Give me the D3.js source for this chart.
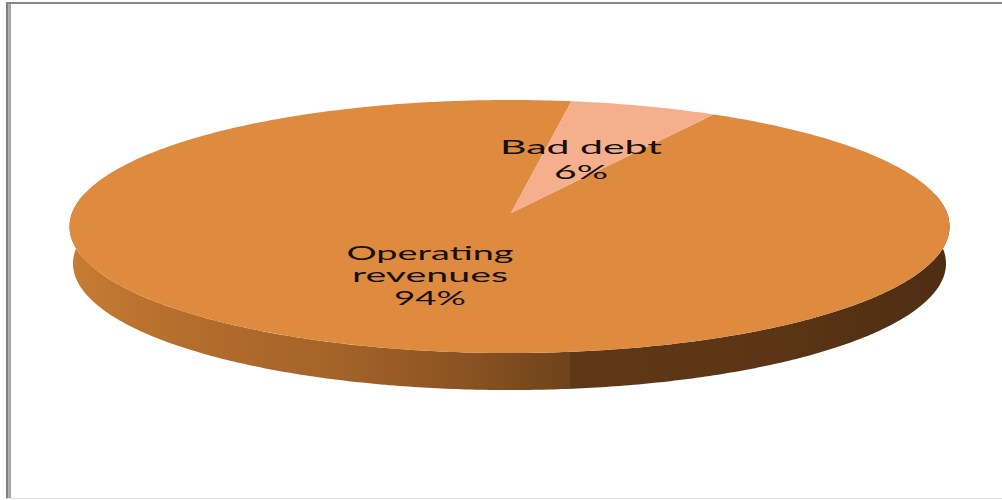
<!DOCTYPE html>
<html>
<head>
<meta charset="utf-8">
<script src="https://cdn.jsdelivr.net/npm/d3@7/dist/d3.min.js"></script>
<style>
  html, body { margin: 0; padding: 0; background: #fff; }
  svg { display: block; }
  text { font-family: Lato, sans-serif; fill: #16100c; }
</style>
</head>
<body>
<svg id="chart" width="1002" height="500"></svg>
<script>
// Data
const categories = ["Operating revenues", "Bad debt"];
const values = [94, 6];
const labelLines = [["Operating", "revenues", "94%"], ["Bad debt", "6%"]];

// Label placement: centre x, baseline per line, stretched width per line
const labelLayout = [
  { x: 430, baselines: [260, 282, 305], widths: [167, 156, 72] },
  { x: 581, baselines: [154, 179], widths: [162, 54] }
];

const W = 1002, H = 500;
const svg = d3.select("#chart").attr("viewBox", `0 0 ${W} ${H}`);

// Perspective projection of a flat disc seen from the front edge
const centre = { x: 511, y: 213 };
const persp = 0.1068;
const scaleU = d3.scaleLinear().domain([0, 1]).range([0, 437.5]);
const scaleV = d3.scaleLinear().domain([0, 1]).range([0, 125.07]);
const depth = 37;
const bottomNarrow = 0.992;

function project(angle, drop = 0, narrow = 1) {
  const u = Math.sin(angle), v = Math.cos(angle), w = 1 + persp * v;
  return [
    centre.x - 1.5 + narrow * scaleU(u) / w,
    centre.y - scaleV(v) / w + drop
  ];
}

// Slices are ordered so that the small one begins just right of twelve o'clock
const firstSliceAngle = (9 / 180) * Math.PI;
const order = [1, 0];
const pie = d3.pie()
  .value(i => values[i])
  .sort((a, b) => order.indexOf(a) - order.indexOf(b))
  .startAngle(firstSliceAngle)
  .endAngle(firstSliceAngle + 2 * Math.PI);
const arcs = pie(d3.range(values.length));

const line = d3.line();
function samples(a0, a1) {
  const n = Math.max(2, Math.ceil(Math.abs(a1 - a0) / 0.01));
  return d3.range(n + 1).map(i => a0 + (a1 - a0) * i / n);
}

const defs = svg.append("defs");

// Side wall shading, with the break in tone under the slice boundary
const sideGrad = defs.append("linearGradient")
  .attr("id", "side-wall")
  .attr("gradientUnits", "userSpaceOnUse")
  .attr("x1", 69).attr("x2", 950).attr("y1", 0).attr("y2", 0);
const seam = (570 - 69) / (950 - 69);
[
  [0, "#c87c34"], [0.12, "#b56e2c"], [0.3, "#a5632a"], [0.45, "#8a5322"],
  [seam, "#6e431b"], [seam, "#5e3716"], [0.8, "#5b3515"], [1, "#4e2d11"]
].forEach(([o, c]) => sideGrad.append("stop").attr("offset", o).attr("stop-color", c));

// Frame
const frame = svg.append("g");
frame.append("rect").attr("x", 6).attr("y", 2).attr("width", 2.5).attr("height", 496).attr("fill", "#7f7f7f");
frame.append("rect").attr("x", 8.5).attr("y", 2).attr("width", 2.5).attr("height", 496).attr("fill", "#a6a6a6");
frame.append("rect").attr("x", 6).attr("y", 2).attr("width", 996).attr("height", 2).attr("fill", "#868686");
frame.append("rect").attr("x", 6).attr("y", 498).attr("width", 996).attr("height", 1).attr("fill", "#e4e4e4");

// Side wall: the near half of the rim extruded downward
const nearRim = samples(Math.PI * 0.45, Math.PI * 1.55);
const wallPts = nearRim.map(a => project(a))
  .concat(nearRim.slice().reverse().map(a => project(a, depth, bottomNarrow)));
svg.append("path")
  .attr("d", line(wallPts) + "Z")
  .attr("fill", "url(#side-wall)");

// Top faces
const topFill = ["#de8a3f", "#f6af8d"];
svg.append("g").selectAll("path")
  .data(arcs)
  .join("path")
  .attr("d", d => {
    const rim = samples(d.startAngle, d.endAngle).map(a => project(a));
    return line([[centre.x, centre.y], ...rim]) + "Z";
  })
  .attr("fill", d => topFill[d.data]);

// Data labels, stretched to the wide proportions of the chart
const labels = svg.append("g").attr("text-anchor", "middle").attr("font-size", 20);
labelLines.forEach((lines, i) => {
  const lay = labelLayout[i];
  lines.forEach((txt, j) => {
    labels.append("text")
      .attr("x", lay.x)
      .attr("y", lay.baselines[j])
      .attr("textLength", lay.widths[j])
      .attr("lengthAdjust", "spacingAndGlyphs")
      .text(txt);
  });
});
</script>
</body>
</html>
